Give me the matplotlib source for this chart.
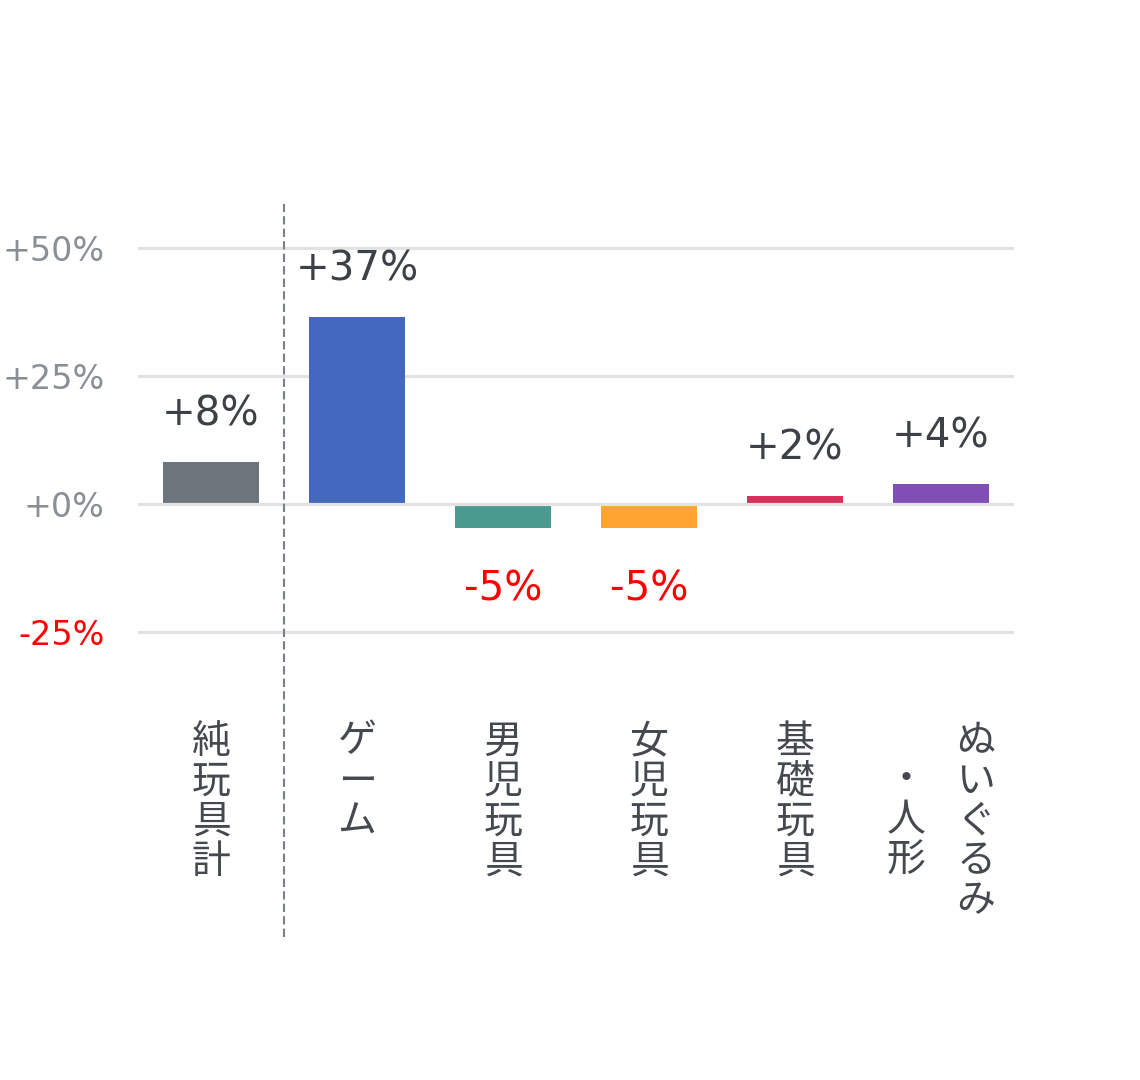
import matplotlib
matplotlib.use('Agg')
import matplotlib.pyplot as plt

plt.rcParams['font.family'] = ['DejaVu Sans', 'Noto Sans CJK JP']

# data (change vs previous year, %)
categories = ['純玩具計', 'ゲーム', '男児玩具', '女児玩具', '基礎玩具', 'ぬいぐるみ・人形']
values = [8.2, 36.6, -4.7, -4.7, 1.6, 3.9]
value_labels = ['+8%', '+37%', '-5%', '-5%', '+2%', '+4%']
colors = ['#6b757b', '#4468be', '#4a9a90', '#ffa433', '#d6315a', '#7f4fb5']
yticks = [-25, 0, 25, 50]
ytick_labels = ['-25%', '+0%', '+25%', '+50%']

fig = plt.figure(figsize=(11.4, 10.8), dpi=100)
# axes spans px x 138..1014, y 204..937
ax = fig.add_axes([138 / 1140, 1 - 937 / 1080, 876 / 1140, 733 / 1080])

x = list(range(len(categories)))
ax.bar(x, values, width=0.66, color=colors, zorder=2)

ax.set_xlim(-0.5, 5.5)
ax.set_ylim(-84.6, 58.6)
ax.set_yticks(yticks)
ax.set_yticklabels(ytick_labels, fontsize=24)
for lbl, v in zip(ax.get_yticklabels(), yticks):
    lbl.set_color('#ff0000' if v < 0 else '#8a8f95')
ax.tick_params(axis='y', length=0, pad=24)
ax.set_xticks([])
for v in yticks:
    # zero line sits on top of the bars
    ax.axhline(v, color='#e2e2e2', lw=2.3, zorder=3 if v == 0 else 1)
for s in ax.spines.values():
    s.set_visible(False)

# separator between total and sub categories
ax.axvline(0.5, color='#7b8088', lw=1.5, ls=(0, (4, 2)), zorder=4)

# value labels
for xi, v, t in zip(x, values, value_labels):
    if v >= 0:
        ax.annotate(t, xy=(xi, v), xytext=(0, 26), textcoords='offset points',
                    ha='center', va='baseline', fontsize=29, color='#3d4147')
    else:
        ax.annotate(t, xy=(xi, v), xytext=(0, -52), textcoords='offset points',
                    ha='center', va='baseline', fontsize=29, color='#ff0000')

# vertical category labels
jp = ['Noto Sans CJK JP', 'DejaVu Sans']
label_y = -42.5
for xi, name in zip(x, categories):
    if '・' in name:
        first, second = name.split('・')
        ax.text(xi + 0.24, label_y, '\n'.join(first), ha='center', va='top',
                fontsize=28, color='#45494f', family=jp, linespacing=1.0)
        ax.text(xi - 0.24, label_y - 7.6, '\n'.join('・' + second), ha='center', va='top',
                fontsize=28, color='#45494f', family=jp, linespacing=1.0)
    else:
        ax.text(xi, label_y, '\n'.join(name), ha='center', va='top',
                fontsize=28, color='#45494f', family=jp, linespacing=1.0)

fig.savefig('out.png', dpi=100)
